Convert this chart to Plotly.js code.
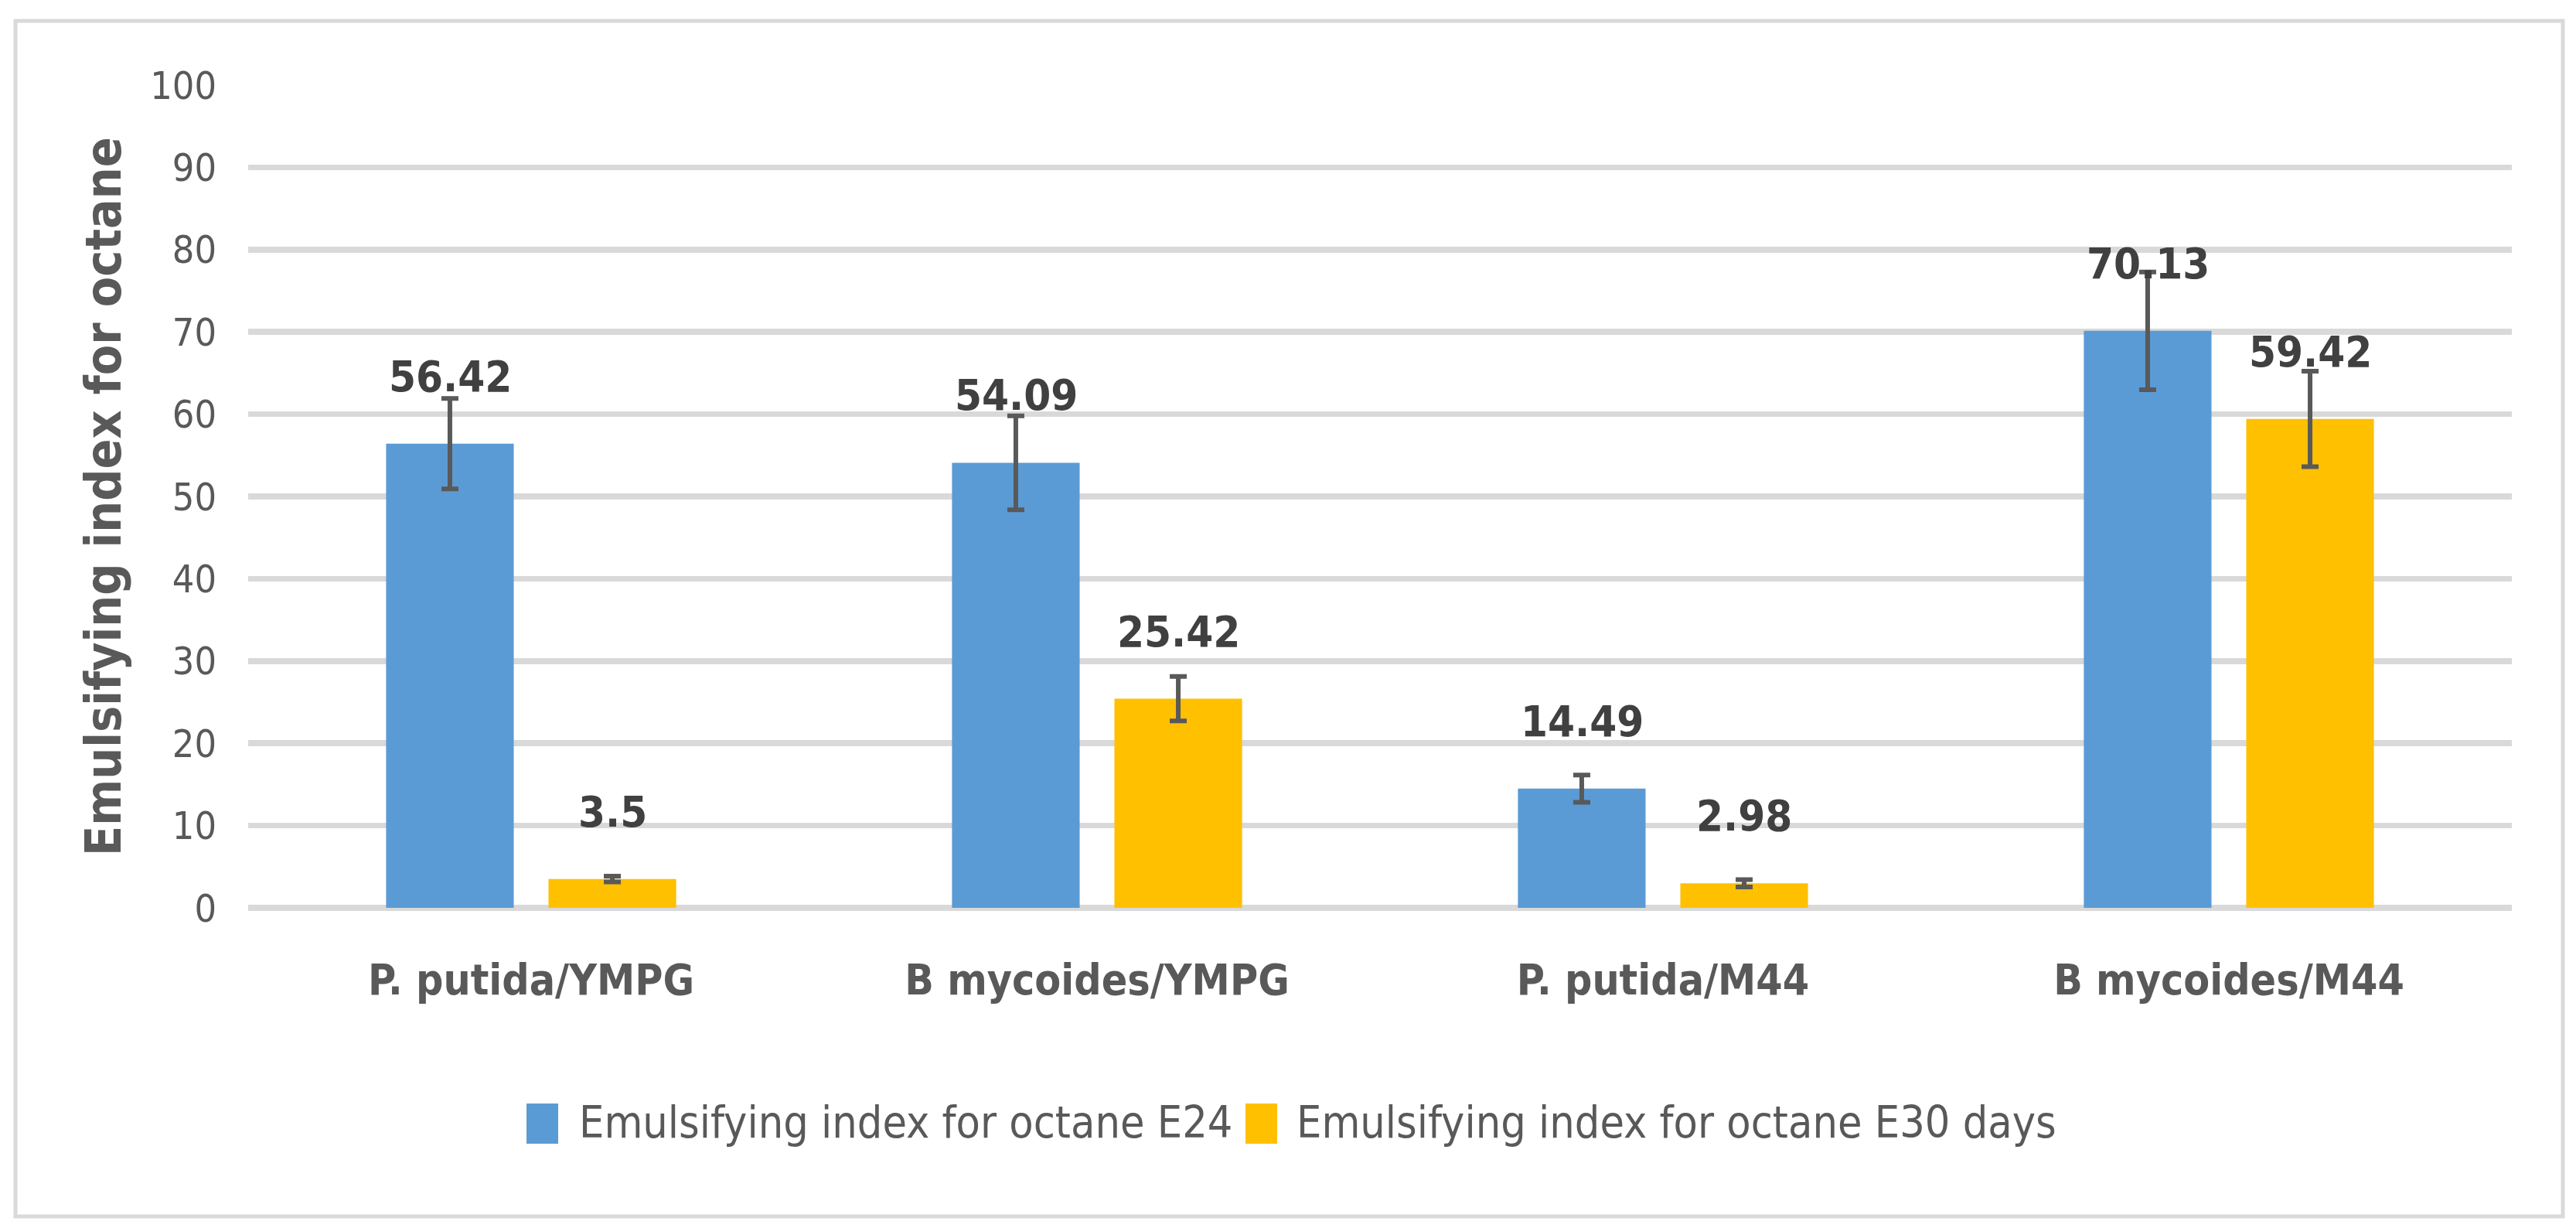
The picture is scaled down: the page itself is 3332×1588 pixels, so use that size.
<!DOCTYPE html>
<html>
<head>
<meta charset="utf-8">
<script src="https://cdn.plot.ly/plotly-3.0.1.min.js"></script>
<style>html,body{margin:0;padding:0;background:#fff;}#chart{width:3332px;height:1588px;}</style>
</head>
<body>
<div id="chart"></div>
<script>
// ---- data ----
const categories = ['P. putida/YMPG', 'B mycoides/YMPG', 'P. putida/M44', 'B mycoides/M44'];
const seriesNames = ['Emulsifying index for octane E24', 'Emulsifying index for octane E30 days'];
const e24Values = [56.42, 54.09, 14.49, 70.13];
const e30Values = [3.5, 25.42, 2.98, 59.42];
const e24Errors = [5.5, 5.7, 1.65, 7.15];
const e30Errors = [0.35, 2.7, 0.45, 5.8];
const yTickValues = [0, 10, 20, 30, 40, 50, 60, 70, 80, 90, 100];
const yTitle = 'Emulsifying index for octane';

// ---- style ----
const FONT = "'Liberation Sans Narrow', 'DejaVu Sans Condensed', 'Liberation Sans', Arial, sans-serif";
const colors = ['#5B9BD5', '#FFC000'];
const W = 3332, H = 1588;
const M = {l: 321, r: 83, t: 110, b: 414};
const PW = W - M.l - M.r, PH = H - M.t - M.b;
const plotBottom = H - M.b;
const px = x => (x - M.l) / PW;
const py = y => (plotBottom - y) / PH;

// size a font so that a sample text reaches a target pixel width
const cv = document.createElement('canvas').getContext('2d');
function fitSize(sample, targetWidth, weight) {
  cv.font = (weight || 400) + ' 100px ' + FONT;
  const w = cv.measureText(sample).width;
  return Math.round(100 * targetWidth / w);
}
const sizeLegend = fitSize(seriesNames[0], 840, 400);
const sizeCat = fitSize(categories[0], 420, 700);
const sizeData = fitSize('56.42', 158, 700);
const sizeTick = fitSize('100', 86, 400);
const sizeTitle = fitSize(yTitle, 925, 700);

const errStyle = {type: 'data', visible: true, color: '#595959', thickness: 6, width: 11};

const traces = [
  {type: 'bar', name: seriesNames[0], x: categories, y: e24Values,
   marker: {color: colors[0]}, error_y: Object.assign({array: e24Errors}, errStyle),
   showlegend: false, hoverinfo: 'skip'},
  {type: 'bar', name: seriesNames[1], x: categories, y: e30Values,
   marker: {color: colors[1]}, error_y: Object.assign({array: e30Errors}, errStyle),
   showlegend: false, hoverinfo: 'skip'}
];

const annotations = [];
const series = [e24Values, e30Values];
const barShift = [-105, 105];
series.forEach((vals, s) => {
  vals.forEach((v, i) => {
    annotations.push({
      x: categories[i], y: v, xref: 'x', yref: 'y',
      xshift: barShift[s], yshift: 50 + Math.round((70 - sizeData) * 0.2),
      text: String(v), showarrow: false, yanchor: 'bottom', xanchor: 'center',
      font: {family: FONT, size: sizeData, color: '#404040', weight: 700}
    });
  });
});

// y-axis title, centred at x = 134 px
annotations.push({xref: 'paper', yref: 'paper', x: px(134), y: 0.5, textangle: -90,
  xanchor: 'center', yanchor: 'middle', showarrow: false, text: yTitle,
  font: {family: FONT, size: sizeTitle, color: '#595959', weight: 700}});

// legend (manual, to match large square keys)
const legendKeys = [[681, 722], [1611, 1652]];
const legendTextX = [747, 1675];
const legendTop = 1427, legendBottom = 1479;
const shapes = [];
seriesNames.forEach((name, s) => {
  shapes.push({type: 'rect', xref: 'paper', yref: 'paper',
    x0: px(legendKeys[s][0]), x1: px(legendKeys[s][1]),
    y0: py(legendBottom), y1: py(legendTop),
    fillcolor: colors[s], line: {width: 0}});
  annotations.push({xref: 'paper', yref: 'paper', x: px(legendTextX[s]), y: py((legendTop + legendBottom) / 2 - 2),
    xanchor: 'left', yanchor: 'middle', showarrow: false, text: name,
    font: {family: FONT, size: sizeLegend, color: '#595959'}});
});
// outer frame
shapes.push({type: 'rect', xref: 'paper', yref: 'paper', layer: 'below',
  x0: px(20), x1: px(3315), y0: py(1573), y1: py(27),
  line: {color: '#d9d9d9', width: 5}, fillcolor: 'rgba(0,0,0,0)'});

const layout = {
  width: W, height: H,
  margin: M,
  paper_bgcolor: '#ffffff', plot_bgcolor: '#ffffff',
  barmode: 'group', bargap: 0.426, bargroupgap: 0.214,
  font: {family: FONT, color: '#595959'},
  showlegend: false,
  xaxis: {
    type: 'category', automargin: false, showgrid: false, zeroline: false, showline: false,
    ticks: '', ticklabelstandoff: 56,
    tickfont: {family: FONT, size: sizeCat, color: '#595959', weight: 700}
  },
  yaxis: {
    range: [0, 100], automargin: false, tickvals: yTickValues, ticktext: yTickValues.map(String),
    showgrid: true, gridcolor: '#d9d9d9', gridwidth: 7.5,
    zeroline: true, zerolinecolor: '#d9d9d9', zerolinewidth: 7.5, showline: false,
    ticks: '', ticklabelstandoff: 40,
    tickfont: {family: FONT, size: sizeTick, color: '#595959'}
  },
  annotations: annotations,
  shapes: shapes
};

Plotly.newPlot('chart', traces, layout, {displayModeBar: false, staticPlot: true});
</script>
</body>
</html>
